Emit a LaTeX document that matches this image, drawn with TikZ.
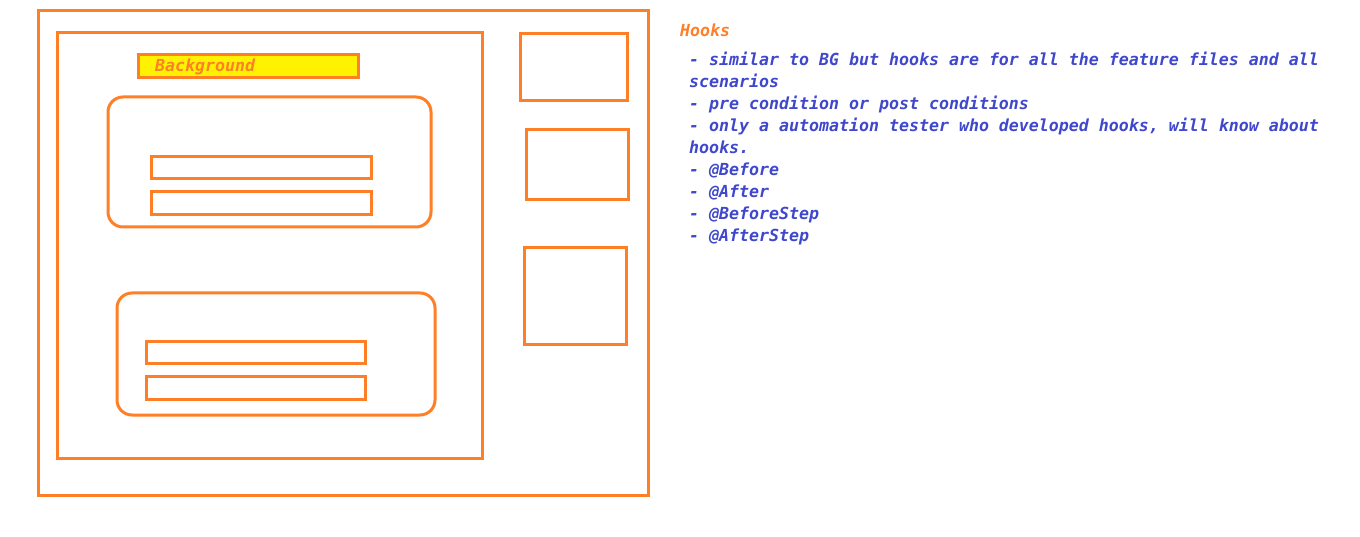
\documentclass[tikz,border=0pt]{standalone}
\usepackage{fontspec}
\usetikzlibrary{positioning}
\newfontfamily\hookfont{DejaVu Sans Mono}
\definecolor{hookorange}{HTML}{FF7F27}
\definecolor{hookblue}{HTML}{3F48CC}
\definecolor{bgyellow}{HTML}{FFF200}

\begin{document}
\begin{tikzpicture}[
  x=1pt, y=-1pt,
  framebox/.style={draw=hookorange, line width=3pt},
  roundbox/.style={draw=hookorange, line width=3pt, rounded corners=15pt},
  notetext/.style={font=\hookfont\bfseries\itshape\fontsize{16.6}{22}\selectfont,
                   inner sep=0pt, align=left},
]
\useasboundingbox[fill=white] (0,0) rectangle (1360,537);

% ---- Feature file frames ----------------------------------------------------
\draw[framebox] (38,11) rectangle (648,495);
\draw[framebox] (57,33) rectangle (482,458);

% Background strip
\draw[framebox, fill=bgyellow] (138,55) rectangle (358,78);
\node[notetext, text=hookorange, anchor=base west] (bglabel) at (155,72) {Background};

% First scenario
\draw[roundbox] (108,97) rectangle (431,227);
\draw[framebox] (151,157) rectangle (371,179);
\draw[framebox] (151,192) rectangle (371,215);

% Second scenario
\draw[roundbox] (117,293) rectangle (435,415);
\draw[framebox] (146,341) rectangle (365,363);
\draw[framebox] (146,376) rectangle (365,399);

% Other feature files
\draw[framebox] (520,34) rectangle (627,101);
\draw[framebox] (526,130) rectangle (628,200);
\draw[framebox] (524,248) rectangle (626,344);

% ---- Notes ------------------------------------------------------------------
\node[notetext, text=hookorange, anchor=base west] (hooktitle) at (680,37) {Hooks};
\node[notetext, text=hookblue, anchor=north west] (hooknotes) at (689,52) {%
  - similar to BG but hooks are for all the feature files and all\\
  scenarios\\
  - pre condition or post conditions\\
  - only a automation tester who developed hooks, will know about\\
  hooks.\\
  - @Before\\
  - @After\\
  - @BeforeStep\\
  - @AfterStep};
\end{tikzpicture}
\end{document}
